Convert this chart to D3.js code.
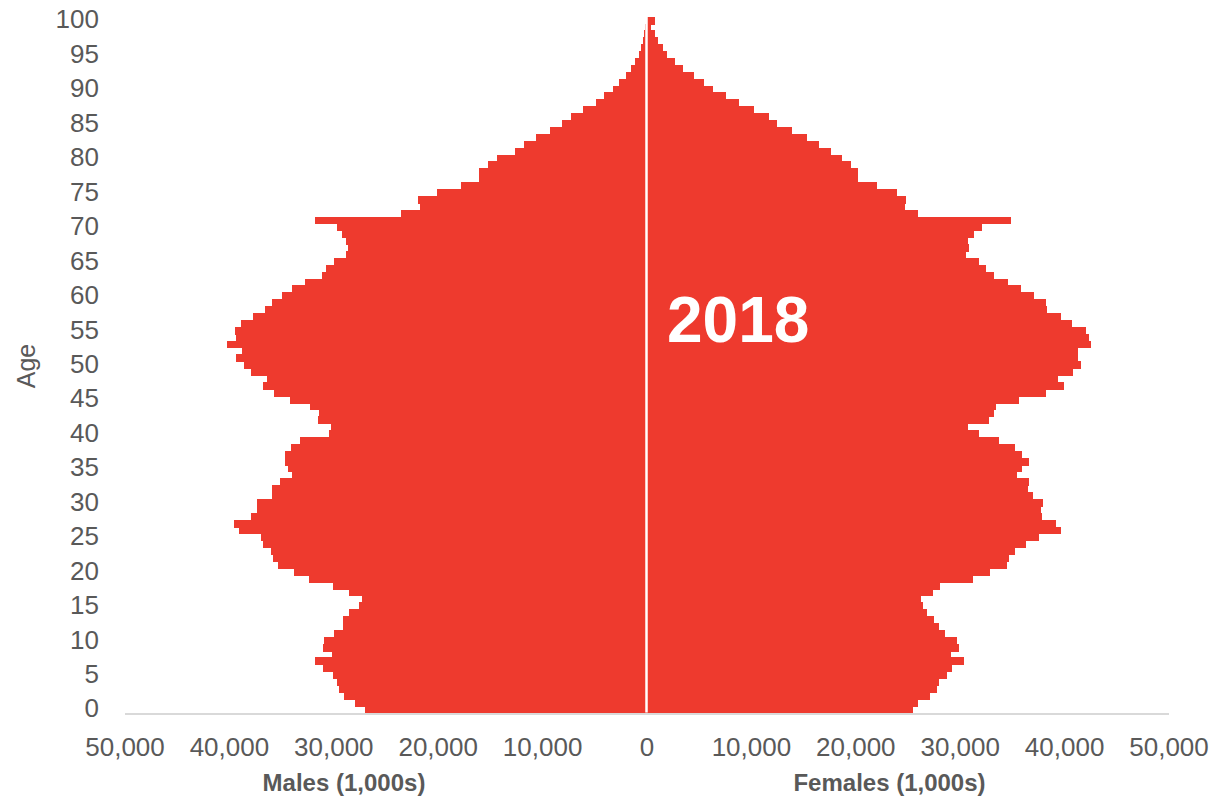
<!DOCTYPE html>
<html>
<head>
<meta charset="utf-8">
<script src="https://cdn.jsdelivr.net/npm/d3@7/dist/d3.min.js"></script>
<style>
  body { margin: 0; background: #fff; }
  svg text { font-family: Arial, "Liberation Sans", sans-serif; }
</style>
</head>
<body>
<div id="chartContainer"></div>
<script>
// population by single year of age, in 1,000s (ages 0..100)
const ages = d3.range(0, 101);

const males = [
  26940, 27900, 29020, 29420, 29620, 30010, 31000, 31760, 30140, 30970,
  30870, 29910, 29090, 29090, 28500, 27510, 27280, 28530, 30050, 32360,
  33740, 35260, 35750, 35990, 36740, 36970, 39080, 39480, 37860, 37340,
  37340, 35880, 35880, 35060, 34000, 34370, 34600, 34600, 34070, 33210,
  30370, 30250, 31500, 31370, 32260, 34100, 35720, 36700, 36350, 37860,
  38590, 39350, 38760, 40210, 39350, 39450, 38850, 37730, 36580, 35850,
  34870, 33970, 32720, 31100, 30740, 29910, 28760, 28630, 28790, 29120,
  29660, 31760, 23520, 21670, 21900, 20060, 17810, 16060, 16060, 15170,
  14310, 12570, 11700, 10580, 9200, 8110, 7190, 6060, 4850, 4090,
  3200, 2600, 1970, 1450, 1080, 720, 500, 360, 230, 120, 80
];

const females = [
  25560, 26020, 27180, 27780, 28040, 28760, 29260, 30380, 29190, 29890,
  29750, 28570, 28040, 27550, 26890, 26460, 26320, 27440, 28070, 31270,
  32890, 34540, 34770, 35270, 36390, 37630, 39720, 39250, 37870, 37740,
  37970, 36980, 36550, 36650, 35500, 35990, 36650, 35990, 35270, 33750,
  31870, 30780, 32850, 33320, 33520, 35660, 38270, 39980, 39390, 40840,
  41630, 41370, 41370, 42620, 42360, 42130, 40710, 39720, 38400, 38300,
  37080, 35890, 34640, 33290, 32530, 31870, 30640, 30880, 30780, 31370,
  32140, 34870, 26020, 24780, 24880, 24010, 22040, 20290, 20290, 19560,
  18710, 17680, 16560, 15350, 13930, 12470, 11710, 10330, 8840, 7590,
  6370, 5480, 4520, 3500, 2740, 1980, 1620, 1130, 860, 400, 770
];

const xTicks = [-50000, -40000, -30000, -20000, -10000, 0, 10000, 20000, 30000, 40000, 50000];
const ageTicks = d3.range(0, 101, 5);
const yearLabel = "2018";

const svg = d3.select("#chartContainer")
  .append("svg")
  .attr("width", 1215)
  .attr("height", 801);

const barColor = "#EE3A2E";
const textColor = "#595959";

const x = d3.scaleLinear()
  .domain([-50000, 50000])
  .range([124.5, 1168.5]);

const y = d3.scaleBand()
  .domain(ages.slice().reverse())
  .range([16.7, 712.6])
  .padding(0);

// bars (crisp edges + 1px overlap so no seams show between ages)
const bars = svg.append("g").attr("shape-rendering", "crispEdges");

bars.selectAll("rect.m")
  .data(ages)
  .enter().append("rect")
  .attr("class", "m")
  .attr("x", d => x(-males[d]))
  .attr("y", d => y(d))
  .attr("width", d => x(0) - x(-males[d]))
  .attr("height", y.bandwidth() + 1)
  .attr("fill", barColor);

bars.selectAll("rect.f")
  .data(ages)
  .enter().append("rect")
  .attr("class", "f")
  .attr("x", x(0))
  .attr("y", d => y(d))
  .attr("width", d => x(females[d]) - x(0))
  .attr("height", y.bandwidth() + 1)
  .attr("fill", barColor);

// white centre line
svg.append("line")
  .attr("x1", x(0)).attr("x2", x(0))
  .attr("y1", y.range()[0]).attr("y2", y.range()[1])
  .attr("stroke", "#fff")
  .attr("stroke-width", 2.5);

// x axis
const xAxis = svg.append("g")
  .attr("transform", "translate(0,713.5)")
  .call(d3.axisBottom(x)
    .tickValues(xTicks)
    .tickSize(0)
    .tickPadding(24)
    .tickFormat(d => d3.format(",")(Math.abs(d))));
xAxis.select(".domain").attr("stroke", "#d9d9d9").attr("stroke-width", 2);
xAxis.selectAll("text")
  .attr("fill", textColor)
  .style("font-size", "26px");

// y axis
const yAxis = svg.append("g")
  .attr("transform", "translate(124.5,0)")
  .call(d3.axisLeft(y)
    .tickValues(ageTicks)
    .tickSize(0)
    .tickPadding(25.5));
yAxis.select(".domain").remove();
yAxis.selectAll("text")
  .attr("fill", textColor)
  .style("font-size", "26px");

// axis titles
svg.append("text")
  .attr("transform", "translate(35,366) rotate(-90)")
  .attr("text-anchor", "middle")
  .attr("fill", textColor)
  .style("font-size", "25px")
  .text("Age");

svg.append("text")
  .attr("x", 344).attr("y", 791)
  .attr("text-anchor", "middle")
  .attr("fill", textColor)
  .style("font-size", "24px")
  .style("font-weight", "bold")
  .text("Males (1,000s)");

svg.append("text")
  .attr("x", 889.5).attr("y", 791)
  .attr("text-anchor", "middle")
  .attr("fill", textColor)
  .style("font-size", "24px")
  .style("font-weight", "bold")
  .text("Females (1,000s)");

// year label
svg.append("text")
  .attr("x", 667).attr("y", 342)
  .attr("fill", "#fff")
  .style("font-size", "64px")
  .style("font-weight", "bold")
  .text(yearLabel);
</script>
</body>
</html>
